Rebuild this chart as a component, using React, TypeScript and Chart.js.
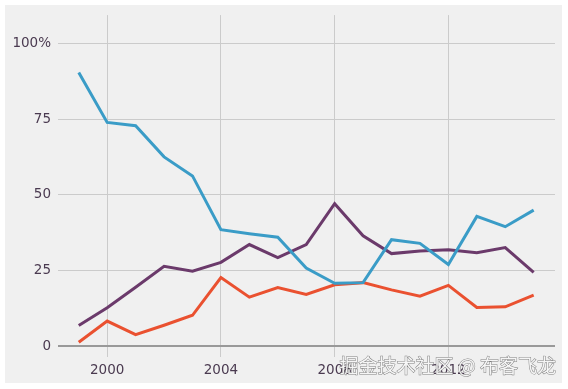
import React, { useEffect, useRef } from "react";
import { Chart, registerables } from "chart.js";

Chart.register(...registerables);

const years = [1999, 2000, 2001, 2002, 2003, 2004, 2005, 2006, 2007, 2008, 2009, 2010, 2011, 2012, 2013, 2014, 2015];
const blueSeries = [90.5, 74.0, 72.9, 62.6, 56.3, 38.5, 37.2, 36.0, 25.8, 20.8, 21.0, 35.2, 34.0, 27.0, 42.9, 39.5, 45.0];
const redSeries = [1.3, 8.3, 3.8, 6.9, 10.2, 22.7, 16.2, 19.4, 17.1, 20.3, 21.0, 18.6, 16.5, 20.1, 12.8, 13.0, 16.9];
const purpleSeries = [6.8, 12.7, 19.5, 26.4, 24.8, 27.7, 33.6, 29.3, 33.6, 47.1, 36.5, 30.6, 31.5, 31.9, 30.9, 32.6, 24.4];
const xTicks = [2000, 2004, 2008, 2012];
const yTicks = [0, 25, 50, 75, 100];
const watermark = "掘金技术社区 @ 布客飞龙";

const W = 568;
const H = 389;

export default function App() {
  const ref = useRef<HTMLCanvasElement | null>(null);

  useEffect(() => {
    if (!ref.current) return;
    const bgPlugin = {
      id: "bg",
      beforeDraw(chart: any) {
        const ctx = chart.ctx;
        ctx.save();
        ctx.fillStyle = "#ffffff";
        ctx.fillRect(0, 0, W, H);
        ctx.fillStyle = "#f0f0f0";
        ctx.fillRect(5, 5, 557, 378);
        ctx.restore();
      },
      afterDraw(chart: any) {
        const ctx = chart.ctx;
        ctx.save();
        ctx.font = '19px "Noto Sans CJK SC"';
        ctx.textAlign = "right";
        ctx.textBaseline = "middle";
        ctx.lineWidth = 1;
        ctx.strokeStyle = "rgba(90,90,90,0.75)";
        ctx.fillStyle = "rgba(250,250,250,0.95)";
        ctx.strokeText(watermark, 556, 366);
        ctx.fillText(watermark, 556, 366);
        ctx.restore();
      },
    };

    const mk = (label: string, data: number[], color: string) => ({
      label,
      data: years.map((y, i) => ({ x: y, y: data[i] })),
      borderColor: color,
      backgroundColor: color,
      borderWidth: 3,
      pointRadius: 0,
      tension: 0,
      fill: false,
    });

    const chart = new Chart(ref.current, {
      type: "line",
      data: {
        datasets: [
          mk("blue", blueSeries, "#3a9cc7"),
          mk("red", redSeries, "#ea5130"),
          mk("purple", purpleSeries, "#6b3a6b"),
        ],
      },
      options: {
        animation: false,
        responsive: false,
        layout: { padding: { top: 13, right: 13, left: 0, bottom: 0 } },
        plugins: { legend: { display: false }, tooltip: { enabled: false } },
        scales: {
          x: {
            type: "linear",
            min: 1998.27,
            max: 2015.75,
            afterBuildTicks: (s: any) => {
              s.ticks = xTicks.map((v) => ({ value: v }));
            },
            afterFit: (s: any) => {
              s.height = 32;
            },
            grid: { color: "#cbcbcb", lineWidth: 1, drawTicks: false },
            border: { display: false },
            ticks: {
              padding: 5,
              color: "#4a3a50",
              font: { family: "DejaVu Sans", size: 13.5 },
              callback: (v: any) => String(v),
              maxRotation: 0,
            },
          },
          y: {
            type: "linear",
            min: -3.6,
            max: 109.5,
            afterBuildTicks: (s: any) => {
              s.ticks = yTicks.map((v) => ({ value: v }));
            },
            afterFit: (s: any) => {
              s.width = 58;
            },
            grid: {
              color: (c: any) => (c.tick && c.tick.value === 0 ? "#999999" : "#cbcbcb"),
              lineWidth: (c: any) => (c.tick && c.tick.value === 0 ? 2 : 1),
              drawTicks: false,
            },
            border: { display: false },
            ticks: {
              padding: 7,
              color: "#4a3a50",
              font: { family: "DejaVu Sans", size: 13.5 },
              callback: (v: any) => (v === 100 ? "100%" : String(v)),
            },
          },
        },
      },
      plugins: [bgPlugin],
    });
    return () => chart.destroy();
  }, []);

  return (
    <div style={{ position: "absolute", left: 0, top: 0, width: W, height: H }}>
      <canvas ref={ref} width={W} height={H} style={{ display: "block", width: W, height: H }} />
    </div>
  );
}
